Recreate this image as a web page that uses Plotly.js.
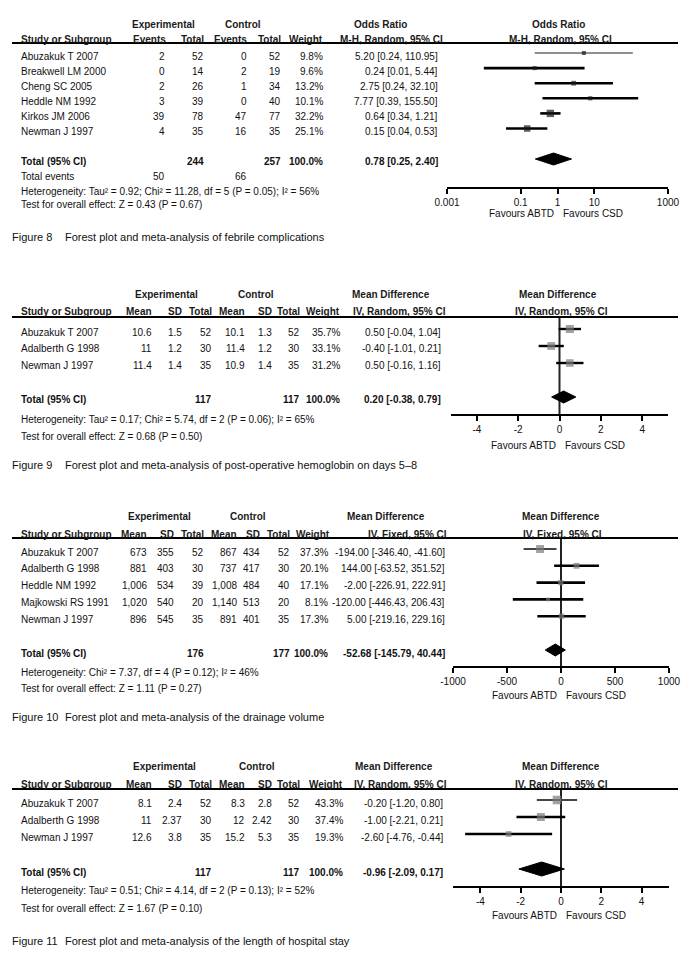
<!DOCTYPE html>
<html><head><meta charset="utf-8">
<script src="https://cdn.plot.ly/plotly-3.0.1.min.js"></script>
<style>html,body{margin:0;padding:0;background:#fff;} #chart{width:695px;height:966px;}</style>
</head><body><div id="chart"></div>
<script>
const W = 695, H = 966;
const FONT = 'Liberation Sans, Arial, Helvetica, sans-serif';

// ---------- Figure 8 : febrile complications (Odds Ratio, M-H Random) ----------
const f8Studies = ["Abuzakuk T 2007","Breakwell LM 2000","Cheng SC 2005","Heddle NM 1992","Kirkos JM 2006","Newman J 1997"];
const f8ExpEvents = [2,0,2,3,39,4];
const f8ExpTotal = [52,14,26,39,78,35];
const f8CtrlEvents = [0,2,1,0,47,16];
const f8CtrlTotal = [52,19,34,40,77,35];
const f8Weight = [9.8,9.6,13.2,10.1,32.2,25.1];
const f8Est = [5.20,0.24,2.75,7.77,0.64,0.15];
const f8Lo = [0.24,0.01,0.24,0.39,0.34,0.04];
const f8Hi = [110.95,5.44,32.10,155.50,1.21,0.53];
const f8TotalN = [244,257];
const f8TotalEvents = [50,66];
const f8Pooled = [0.78,0.25,2.40];
const f8Het = "Heterogeneity: Tau² = 0.92; Chi² = 11.28, df = 5 (P = 0.05); I² = 56%";
const f8Test = "Test for overall effect: Z = 0.43 (P = 0.67)";
const f8Caption = "Forest plot and meta-analysis of febrile complications";
const f8TickVals = [0.001,0.1,1,10,1000];
const f8TickText = ["0.001","0.1","1","10","1000"];

// ---------- Figure 9 : post-operative hemoglobin (Mean Difference, IV Random) ----------
const f9Studies = ["Abuzakuk T 2007","Adalberth G 1998","Newman J 1997"];
const f9ExpMean = [10.6,11,11.4];
const f9ExpSD = [1.5,1.2,1.4];
const f9ExpTotal = [52,30,35];
const f9CtrlMean = [10.1,11.4,10.9];
const f9CtrlSD = [1.3,1.2,1.4];
const f9CtrlTotal = [52,30,35];
const f9Weight = [35.7,33.1,31.2];
const f9Est = [0.50,-0.40,0.50];
const f9Lo = [-0.04,-1.01,-0.16];
const f9Hi = [1.04,0.21,1.16];
const f9TotalN = [117,117];
const f9Pooled = [0.20,-0.38,0.79];
const f9Het = "Heterogeneity: Tau² = 0.17; Chi² = 5.74, df = 2 (P = 0.06); I² = 65%";
const f9Test = "Test for overall effect: Z = 0.68 (P = 0.50)";
const f9Caption = "Forest plot and meta-analysis of post-operative hemoglobin on days 5–8";
const f9TickVals = [-4,-2,0,2,4];
const f9TickText = ["-4","-2","0","2","4"];

// ---------- Figure 10 : drainage volume (Mean Difference, IV Fixed) ----------
const f10Studies = ["Abuzakuk T 2007","Adalberth G 1998","Heddle NM 1992","Majkowski RS 1991","Newman J 1997"];
const f10ExpMean = [673,881,1006,1020,896];
const f10ExpSD = [355,403,534,540,545];
const f10ExpTotal = [52,30,39,20,35];
const f10CtrlMean = [867,737,1008,1140,891];
const f10CtrlSD = [434,417,484,513,401];
const f10CtrlTotal = [52,30,40,20,35];
const f10Weight = [37.3,20.1,17.1,8.1,17.3];
const f10Est = [-194.00,144.00,-2.00,-120.00,5.00];
const f10Lo = [-346.40,-63.52,-226.91,-446.43,-219.16];
const f10Hi = [-41.60,351.52,222.91,206.43,229.16];
const f10TotalN = [176,177];
const f10Pooled = [-52.68,-145.79,40.44];
const f10Het = "Heterogeneity: Chi² = 7.37, df = 4 (P = 0.12); I² = 46%";
const f10Test = "Test for overall effect: Z = 1.11 (P = 0.27)";
const f10Caption = "Forest plot and meta-analysis of the drainage volume";
const f10TickVals = [-1000,-500,0,500,1000];
const f10TickText = ["-1000","-500","0","500","1000"];

// ---------- Figure 11 : length of hospital stay (Mean Difference, IV Random) ----------
const f11Studies = ["Abuzakuk T 2007","Adalberth G 1998","Newman J 1997"];
const f11ExpMean = [8.1,11,12.6];
const f11ExpSD = [2.4,2.37,3.8];
const f11ExpTotal = [52,30,35];
const f11CtrlMean = [8.3,12,15.2];
const f11CtrlSD = [2.8,2.42,5.3];
const f11CtrlTotal = [52,30,35];
const f11Weight = [43.3,37.4,19.3];
const f11Est = [-0.20,-1.00,-2.60];
const f11Lo = [-1.20,-2.21,-4.76];
const f11Hi = [0.80,0.21,-0.44];
const f11TotalN = [117,117];
const f11Pooled = [-0.96,-2.09,0.17];
const f11Het = "Heterogeneity: Tau² = 0.51; Chi² = 4.14, df = 2 (P = 0.13); I² = 52%";
const f11Test = "Test for overall effect: Z = 1.67 (P = 0.10)";
const f11Caption = "Forest plot and meta-analysis of the length of hospital stay";
const f11TickVals = [-4,-2,0,2,4];
const f11TickText = ["-4","-2","0","2","4"];

// ---------- formatting helpers ----------
const thou = v => String(v).replace(/\B(?=(\d{3})+(?!\d))/g, ",");
const pct = v => v.toFixed(1) + "%";
const ci = (e,l,h) => e.toFixed(2) + " [" + l.toFixed(2) + ", " + h.toFixed(2) + "]";
const str = v => String(v);

// ---------- layout specs for each panel ----------
const panels = [
  {
    fig: "Figure 8", caption: f8Caption,
    studies: f8Studies, est: f8Est, lo: f8Lo, hi: f8Hi, weight: f8Weight, pooled: f8Pooled,
    cols: [f8ExpEvents.map(str), f8ExpTotal.map(str), f8CtrlEvents.map(str), f8CtrlTotal.map(str), f8Weight.map(pct), f8Est.map((e,i)=>ci(e,f8Lo[i],f8Hi[i]))],
    colX: [165,204,247,281,323,438],
    groupHeads: [["Experimental",163.5],["Control",242.5],["Odds Ratio",381],["Odds Ratio",558]],
    subHeads: [["Events",166],["Total",204],["Events",247],["Total",281],["Weight",323],["M-H, Random, 95% CI",443]],
    plotSub: ["M-H, Random, 95% CI",560],
    totalCells: [[str(f8TotalN[0]),1],[str(f8TotalN[1]),3],["100.0%",4],[ci(f8Pooled[0],f8Pooled[1],f8Pooled[2]),5]],
    eventsRow: [[str(f8TotalEvents[0]),0],[str(f8TotalEvents[1]),2]],
    het: f8Het, test: f8Test,
    y: {h1:24, h2:39, rule:43, row0:56, dRow:15.1, total:162, events:177, het:191, test:205, axis:187, fav:213, cap:237},
    ax: {x0:447, x1:668, type:'log', range:[-3.001,3.001], tickvals:f8TickVals, ticktext:f8TickText, nullVal:1},
    sqColor: '#1a1a1a', sqK: 1.3, dH: 6,
    lineW: [1.2,2.6,2.6,2.6,2.6,2.6], lineC: ['#222','#000','#000','#000','#000','#000']
  },
  {
    fig: "Figure 9", caption: f9Caption,
    studies: f9Studies, est: f9Est, lo: f9Lo, hi: f9Hi, weight: f9Weight, pooled: f9Pooled,
    cols: [f9ExpMean.map(str), f9ExpSD.map(str), f9ExpTotal.map(str), f9CtrlMean.map(str), f9CtrlSD.map(str), f9CtrlTotal.map(str), f9Weight.map(pct), f9Est.map((e,i)=>ci(e,f9Lo[i],f9Hi[i]))],
    colX: [152,182,212,245,272,300,340,441],
    groupHeads: [["Experimental",166],["Control",256],["Mean Difference",391],["Mean Difference",558]],
    subHeads: [["Mean",152],["SD",182],["Total",212],["Mean",245],["SD",272],["Total",300],["Weight",340],["IV, Random, 95% CI",446]],
    plotSub: ["IV, Random, 95% CI",561],
    totalCells: [[str(f9TotalN[0]),2],[str(f9TotalN[1]),5],["100.0%",6],[ci(f9Pooled[0],f9Pooled[1],f9Pooled[2]),7]],
    het: f9Het, test: f9Test,
    y: {h1:294, h2:312, rule:317, row0:332, dRow:17, total:400, het:419, test:437, axis:414, fav:445, cap:465},
    ax: {x0:451, x1:668, type:'linear', range:[-5.25,5.25], tickvals:f9TickVals, ticktext:f9TickText, nullVal:0},
    sqColor: '#7a7a7a', sqK: 1.35, dH: 6,
    lineW: [2.4,2.4,2.4], lineC: ['#000','#000','#000']
  },
  {
    fig: "Figure 10", caption: f10Caption,
    studies: f10Studies, est: f10Est, lo: f10Lo, hi: f10Hi, weight: f10Weight, pooled: f10Pooled,
    cols: [f10ExpMean.map(thou), f10ExpSD.map(str), f10ExpTotal.map(str), f10CtrlMean.map(thou), f10CtrlSD.map(str), f10CtrlTotal.map(str), f10Weight.map(pct), f10Est.map((e,i)=>ci(e,f10Lo[i],f10Hi[i]))],
    colX: [147,174,204,237,260,290,328,445],
    groupHeads: [["Experimental",159],["Control",247.5],["Mean Difference",386],["Mean Difference",560.5]],
    subHeads: [["Mean",147],["SD",174],["Total",204],["Mean",237],["SD",260],["Total",290],["Weight",330],["IV, Fixed, 95% CI",447]],
    plotSub: ["IV, Fixed, 95% CI",562],
    totalCells: [[str(f10TotalN[0]),2],[str(f10TotalN[1]),5],["100.0%",6],[ci(f10Pooled[0],f10Pooled[1],f10Pooled[2]),7]],
    het: f10Het, test: f10Test,
    y: {h1:516, h2:534, rule:538, row0:552, dRow:16.8, total:653, het:672, test:688, axis:666, fav:695, cap:717},
    ax: {x0:453, x1:669, type:'linear', range:[-1000.5,1000.5], tickvals:f10TickVals, ticktext:f10TickText, nullVal:0},
    sqColor: '#7a7a7a', sqK: 1.3, dH: 6,
    lineW: [2,2.6,2.6,2.6,2.6], lineC: ['#444','#000','#000','#000','#000']
  },
  {
    fig: "Figure 11", caption: f11Caption,
    studies: f11Studies, est: f11Est, lo: f11Lo, hi: f11Hi, weight: f11Weight, pooled: f11Pooled,
    cols: [f11ExpMean.map(str), f11ExpSD.map(str), f11ExpTotal.map(str), f11CtrlMean.map(str), f11CtrlSD.map(str), f11CtrlTotal.map(str), f11Weight.map(pct), f11Est.map((e,i)=>ci(e,f11Lo[i],f11Hi[i]))],
    colX: [152,182,212,245,272,300,343,443],
    groupHeads: [["Experimental",164],["Control",257],["Mean Difference",394],["Mean Difference",560.5]],
    subHeads: [["Mean",152],["SD",182],["Total",212],["Mean",245],["SD",272],["Total",300],["Weight",343],["IV, Random, 95% CI",447]],
    plotSub: ["IV, Random, 95% CI",561],
    totalCells: [[str(f11TotalN[0]),2],[str(f11TotalN[1]),5],["100.0%",6],[ci(f11Pooled[0],f11Pooled[1],f11Pooled[2]),7]],
    het: f11Het, test: f11Test,
    y: {h1:766, h2:784, rule:789, row0:803, dRow:17, total:872, het:890, test:908, axis:886, fav:915, cap:941},
    ax: {x0:453, x1:669, type:'linear', range:[-5.36,5.36], tickvals:f11TickVals, ticktext:f11TickText, nullVal:0},
    sqColor: '#7a7a7a', sqK: 1.3, dH: 7,
    lineW: [2,2.6,2.6], lineC: ['#444','#000','#000']
  }
];

// ---------- build ----------
const traces = [], annotations = [], shapes = [];
const layout = {
  width: W, height: H, margin: {l:0, r:0, t:0, b:0},
  paper_bgcolor: '#fff', plot_bgcolor: 'rgba(0,0,0,0)', showlegend: false,
  font: {family: FONT, size: 10, color: '#111'}
};
const BODY = '#111', HEAD = '#1a1a1a';
function txt(x, y, text, anchor, opts) {
  const o = opts || {};
  annotations.push({
    xref: 'paper', yref: 'paper', x: x / W, y: 1 - y / H, text: text,
    showarrow: false, xanchor: anchor, yanchor: 'middle', borderpad: 0, borderwidth: 0,
    font: {family: FONT, size: o.size || 10, color: o.color || BODY}
  });
}

const NAME_X = 21, MARK_DY = -3;
panels.forEach((p, k) => {
  const s = k === 0 ? '' : String(k + 1);
  const so = String(k + 5);
  const Y = p.y;
  const rowY = i => Y.row0 + i * Y.dRow;

  // headers
  p.groupHeads.forEach(g => txt(g[1], Y.h1, '<b>' + g[0] + '</b>', 'center', {color: HEAD}));
  txt(NAME_X, Y.h2, '<b>Study or Subgroup</b>', 'left', {color: HEAD});
  p.subHeads.forEach(g => txt(g[1], Y.h2, '<b>' + g[0] + '</b>', 'right', {color: HEAD}));
  txt(p.plotSub[1], Y.h2, '<b>' + p.plotSub[0] + '</b>', 'center', {color: HEAD});
  shapes.push({type: 'line', xref: 'paper', yref: 'paper', x0: 12 / W, x1: 678 / W, y0: 1 - Y.rule / H, y1: 1 - Y.rule / H, line: {color: '#000', width: 2}});

  // study rows
  p.studies.forEach((name, i) => {
    txt(NAME_X, rowY(i), name, 'left');
    p.cols.forEach((col, c) => txt(p.colX[c], rowY(i), col[i], 'right'));
  });
  // total rows
  txt(NAME_X, Y.total, '<b>Total (95% CI)</b>', 'left');
  p.totalCells.forEach(tc => txt(p.colX[tc[1]], Y.total, '<b>' + tc[0] + '</b>', 'right'));
  if (p.eventsRow) {
    txt(NAME_X, Y.events, 'Total events', 'left');
    p.eventsRow.forEach(tc => txt(p.colX[tc[1]], Y.events, tc[0], 'right'));
  }
  txt(NAME_X, Y.het, p.het, 'left');
  txt(NAME_X, Y.test, p.test, 'left');
  txt(12, Y.cap, p.fig, 'left', {size: 11});
  txt(65, Y.cap, p.caption, 'left', {size: 11});

  // axes
  const xa = {
    domain: [p.ax.x0 / W, p.ax.x1 / W], type: p.ax.type, range: p.ax.range, anchor: 'y' + s,
    showline: true, linewidth: 2, linecolor: '#000', mirror: false,
    ticks: 'outside', ticklen: 5, tickwidth: 2, tickcolor: '#000',
    tickmode: 'array', tickvals: p.ax.tickvals, ticktext: p.ax.ticktext,
    tickfont: {family: FONT, size: 10, color: BODY},
    showgrid: false, zeroline: false, fixedrange: true
  };
  layout['xaxis' + s] = xa;
  layout['xaxis' + so] = {
    domain: xa.domain, type: p.ax.type, range: p.ax.range, anchor: 'y' + s, overlaying: 'x' + s,
    showline: false, ticks: 'inside', ticklen: 4, tickwidth: 2, tickcolor: '#000',
    tickmode: 'array', tickvals: p.ax.tickvals, showticklabels: false,
    showgrid: false, zeroline: false, fixedrange: true
  };
  layout['yaxis' + s] = {
    domain: [1 - Y.axis / H, 1 - Y.rule / H], range: [Y.axis, Y.rule],
    visible: false, fixedrange: true, showgrid: false, zeroline: false
  };

  // null line
  const nullPos = p.ax.type === 'log' ? Math.log10(p.ax.nullVal) : p.ax.nullVal;
  shapes.push({type: 'line', xref: 'x' + s, yref: 'y' + s + ' domain', x0: nullPos, x1: nullPos, y0: 0, y1: 1,
    line: {color: '#222', width: 2}, layer: 'below'});

  // favours labels
  annotations.push({xref: 'x' + s, yref: 'paper', x: nullPos, y: 1 - Y.fav / H, text: 'Favours ABTD',
    showarrow: false, xanchor: 'right', yanchor: 'middle', xshift: -4, borderpad: 0, borderwidth: 0,
    font: {family: FONT, size: 10, color: BODY}});
  annotations.push({xref: 'x' + s, yref: 'paper', x: nullPos, y: 1 - Y.fav / H, text: 'Favours CSD',
    showarrow: false, xanchor: 'left', yanchor: 'middle', xshift: 5, borderpad: 0, borderwidth: 0,
    font: {family: FONT, size: 10, color: BODY}});

  // CI lines
  p.studies.forEach((name, i) => {
    traces.push({type: 'scatter', mode: 'lines', xaxis: 'x' + s, yaxis: 'y' + s,
      x: [p.lo[i], p.hi[i]], y: [rowY(i) + MARK_DY, rowY(i) + MARK_DY],
      line: {color: p.lineC[i], width: p.lineW[i]}, hoverinfo: 'skip', cliponaxis: false});
  });
  // squares
  traces.push({type: 'scatter', mode: 'markers', xaxis: 'x' + s, yaxis: 'y' + s,
    x: p.est, y: p.studies.map((n, i) => rowY(i) + MARK_DY),
    marker: {symbol: 'square', size: p.weight.map(w => p.sqK * Math.sqrt(w)), color: p.sqColor, line: {width: 0}},
    hoverinfo: 'skip', cliponaxis: false});
  // diamond
  const yc = Y.total + MARK_DY, e = p.pooled;
  traces.push({type: 'scatter', mode: 'lines', xaxis: 'x' + s, yaxis: 'y' + s,
    x: [e[1], e[0], e[2], e[0], e[1]], y: [yc, yc - p.dH, yc, yc + p.dH, yc],
    fill: 'toself', fillcolor: '#000', line: {color: '#000', width: 1}, hoverinfo: 'skip', cliponaxis: false});
});

layout.annotations = annotations;
layout.shapes = shapes;
Plotly.newPlot('chart', traces, layout, {displayModeBar: false, staticPlot: true});
</script></body></html>
